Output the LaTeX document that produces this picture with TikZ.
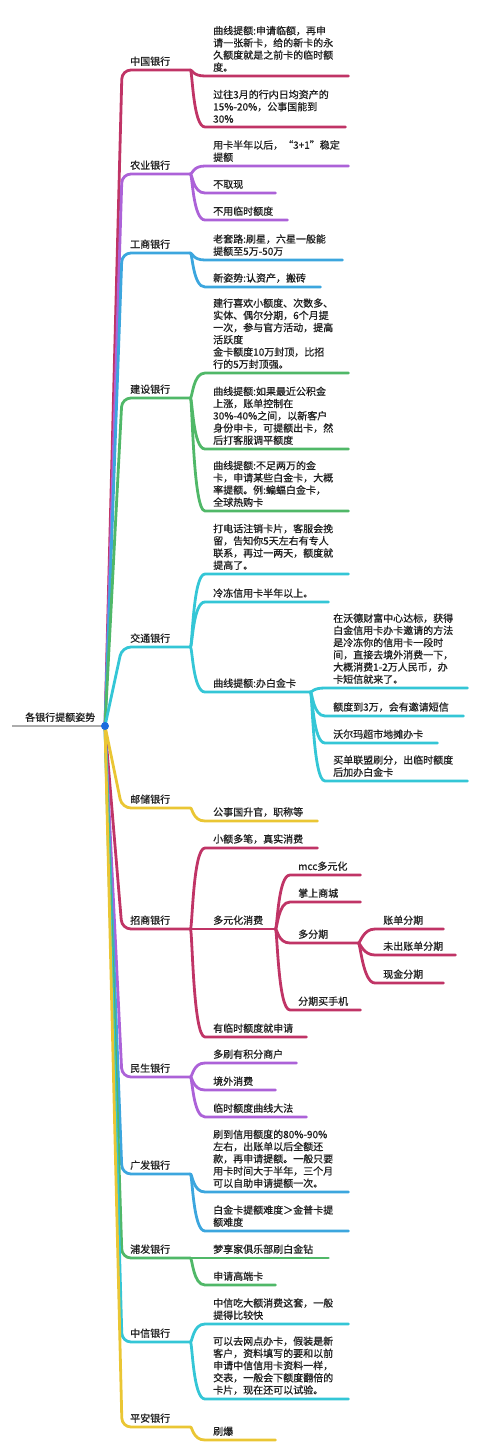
\documentclass[tikz,border=0pt]{standalone}
\usepackage{fontspec}
\setmainfont{Noto Sans CJK SC}[AutoFakeBold=0.7]
\usepackage{tikz}
\usetikzlibrary{positioning}

\definecolor{cRed}{RGB}{192,52,102}
\definecolor{cPurple}{RGB}{172,98,216}
\definecolor{cBlue}{RGB}{60,166,222}
\definecolor{cGreen}{RGB}{80,184,104}
\definecolor{cCyan}{RGB}{52,198,214}
\definecolor{cYellow}{RGB}{234,198,52}
\definecolor{cGray}{RGB}{172,172,172}
\definecolor{cHub}{RGB}{28,108,222}

\begin{document}
\begin{tikzpicture}[x=1pt,y=-1pt,
  every node/.style={font=\fontsize{10}{12.2}\selectfont\bfseries,text=black!88},
  bank/.style={anchor=south west,inner xsep=8pt,inner ysep=4pt,align=left,text width=52pt},
  leaf/.style={anchor=south west,inner xsep=8pt,inner ysep=4pt,align=left,text width=#1},
  leaf/.default=54pt,
  br/.style={line width=2.8pt,line cap=round,draw=#1},
  trunk/.style={br=#1,rounded corners=9pt},
  hubdot/.style={circle,fill=cHub,inner sep=0pt,minimum size=8pt}]
\useasboundingbox (0,0) rectangle (480,1453);

% root
\coordinate (hubc) at (105,726);
\node[anchor=south west,inner xsep=13pt,inner ysep=4pt] (root) at (12,726) {各银行提额姿势};

% banks
\node[bank] (zg) at (122,70) {中国银行};
\node[bank] (ny) at (122,174) {农业银行};
\node[bank] (gs) at (122,253) {工商银行};
\node[bank] (js) at (122,398) {建设银行};
\node[bank] (jt) at (122,647) {交通银行};
\node[bank] (yc) at (122,808) {邮储银行};
\node[bank] (zs) at (122,929) {招商银行};
\node[bank] (ms) at (122,1077) {民生银行};
\node[bank] (gf) at (122,1174) {广发银行};
\node[bank] (pf) at (122,1258) {浦发银行};
\node[bank] (zx) at (122,1342) {中信银行};
\node[bank] (pa) at (122,1427) {平安银行};

% 中国银行
\node[leaf=127pt] (zgA) at (205,76) {曲线提额:申请临额，再申\\请一张新卡，给的新卡的永\\久额度就是之前卡的临时额\\度。};
\node[leaf=124pt] (zgB) at (205,127) {过往3月的行内日均资产的\\15\%-20\%，公事国能到\\30\%};

% 农业银行
\node[leaf=127pt] (nyA) at (205,166) {用卡半年以后，“3+1”稳定\\提额};
\node[leaf] (nyB) at (205,193) {不取现};
\node[leaf=66pt] (nyC) at (205,220) {不用临时额度};

% 工商银行
\node[leaf=121pt] (gsA) at (205,260) {老套路:刷星，六星一般能\\提额至5万-50万};
\node[leaf=99pt] (gsB) at (205,287) {新姿势:认资产，搬砖};

% 建设银行
\node[leaf=127pt] (jsA) at (205,373) {建行喜欢小额度、次数多、\\实体、偶尔分期，6个月提\\一次，参与官方活动，提高\\活跃度\\金卡额度10万封顶，比招\\行的5万封顶强。};
\node[leaf=127pt] (jsB) at (205,449) {曲线提额:如果最近公积金\\上涨，账单控制在\\30\%-40\%之间，以新客户\\身份申卡，可提额出卡，然\\后打客服调平额度};
\node[leaf=127pt] (jsC) at (205,511) {曲线提额:不足两万的金\\卡，申请某些白金卡，大概\\率提额。例:蝙蝠白金卡，\\全球热购卡};

% 交通银行
\node[leaf=127pt] (jtA) at (205,574) {打电话注销卡片，客服会挽\\留，告知你5天左右有专人\\联系，再过一两天，额度就\\提高了。};
\node[leaf=107pt] (jtB) at (205,602) {冷冻信用卡半年以上。};
\node[leaf=89pt] (jtC) at (205,692) {曲线提额:办白金卡};
\node[leaf=126pt] (bjA) at (325,688) {在沃德财富中心达标，获得\\白金信用卡办卡邀请的方法\\是冷冻你的信用卡一段时\\间，直接去境外消费一下，\\大概消费1-2万人民币，办\\卡短信就来了。};
\node[leaf=122pt] (bjB) at (325,716) {额度到3万，会有邀请短信};
\node[leaf=96pt] (bjC) at (325,743) {沃尔玛超市地摊办卡};
\node[leaf=126pt] (bjD) at (325,781) {买单联盟刷分，出临时额度\\后加办白金卡};

% 邮储银行
\node[leaf=96pt] (ycA) at (205,821) {公事国升官，职称等};

% 招商银行
\node[leaf=96pt] (zsA) at (205,848) {小额多笔，真实消费};
\node[leaf] (zsB) at (205,929) {多元化消费};
\node[leaf=85pt] (zsC) at (205,1037) {有临时额度就申请};
\node[leaf] (dyA) at (290,875) {mcc多元化};
\node[leaf] (dyB) at (290,902) {掌上商城};
\node[leaf=52pt] (dyC) at (290,943) {多分期};
\node[leaf] (dyD) at (290,1010) {分期买手机};
\node[leaf=52pt] (fqA) at (375,929) {账单分期};
\node[leaf=64pt] (fqB) at (375,955) {未出账单分期};
\node[leaf=52pt] (fqC) at (375,983) {现金分期};

% 民生银行
\node[leaf=75pt] (msA) at (205,1063) {多刷有积分商户};
\node[leaf] (msB) at (205,1090) {境外消费};
\node[leaf=85pt] (msC) at (205,1117) {临时额度曲线大法};

% 广发银行
\node[leaf=127pt] (gfA) at (205,1192) {刷到信用额度的80\%-90\%\\左右，出账单以后全额还\\款，再申请提额。一般只要\\用卡时间大于半年，三个月\\可以自助申请提额一次。};
\node[leaf=127pt] (gfB) at (205,1231) {白金卡提额难度＞金普卡提\\额难度};

% 浦发银行
\node[leaf=107pt] (pfA) at (205,1258) {梦享家俱乐部刷白金钻};
\node[leaf] (pfB) at (205,1285) {申请高端卡};

% 中信银行
\node[leaf=127pt] (zxA) at (205,1324) {中信吃大额消费这套，一般\\提得比较快};
\node[leaf=127pt] (zxB) at (205,1399) {可以去网点办卡，假装是新\\客户，资料填写的要和以前\\申请中信信用卡资料一样，\\交表，一般会下额度翻倍的\\卡片，现在还可以试验。};

% 平安银行
\node[leaf] (paA) at (205,1440) {刷爆};

% trunks from the hub
\draw[trunk=cRed] (hubc) -- (zg.south west) -- (zg.south east);
\draw[trunk=cPurple] (hubc) -- (ny.south west) -- (ny.south east);
\draw[trunk=cBlue] (hubc) -- (gs.south west) -- (gs.south east);
\draw[trunk=cGreen] (hubc) -- (js.south west) -- (js.south east);
\draw[trunk=cCyan] (hubc) -- (jt.south west) -- (jt.south east);
\draw[trunk=cRed] (hubc) -- (zs.south west) -- (zs.south east);
\draw[trunk=cPurple] (hubc) -- (ms.south west) -- (ms.south east);
\draw[trunk=cBlue] (hubc) -- (gf.south west) -- (gf.south east);
\draw[trunk=cGreen] (hubc) -- (pf.south west) -- (pf.south east);
\draw[trunk=cCyan] (hubc) -- (zx.south west) -- (zx.south east);
\draw[trunk=cYellow] (hubc) -- (yc.south west) -- (yc.south east);
\draw[trunk=cYellow] (hubc) -- (pa.south west) -- (pa.south east);

% branches
\foreach \p/\c/\n in {zg/cRed/zgA, zg/cRed/zgB, ny/cPurple/nyA, ny/cPurple/nyB, ny/cPurple/nyC,
    gs/cBlue/gsA, gs/cBlue/gsB, js/cGreen/jsA, js/cGreen/jsB, js/cGreen/jsC,
    jt/cCyan/jtA, jt/cCyan/jtB, jt/cCyan/jtC, jtC/cCyan/bjA, jtC/cCyan/bjB, jtC/cCyan/bjC, jtC/cCyan/bjD,
    yc/cYellow/ycA, zs/cRed/zsA, zs/cRed/zsB, zs/cRed/zsC,
    zsB/cRed/dyA, zsB/cRed/dyB, zsB/cRed/dyC, zsB/cRed/dyD, dyC/cRed/fqA, dyC/cRed/fqB, dyC/cRed/fqC,
    ms/cPurple/msA, ms/cPurple/msB, ms/cPurple/msC, gf/cBlue/gfA, gf/cBlue/gfB,
    pf/cGreen/pfA, pf/cGreen/pfB, zx/cCyan/zxA, zx/cCyan/zxB, pa/cYellow/paA}
  \draw[br=\c] (\p.south east) .. controls +(2,0) and +(-12,0) .. (\n.south west) -- (\n.south east);

\draw[br=cGray,line cap=butt] (root.south west) -- (hubc);
\node[hubdot] (hub) at (hubc) {};
\end{tikzpicture}
\end{document}
